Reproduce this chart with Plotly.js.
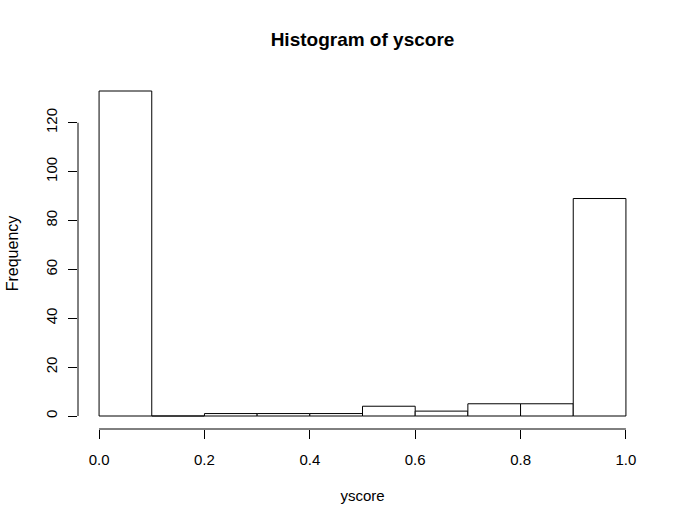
<!DOCTYPE html>
<html>
<head>
<meta charset="utf-8">
<script src="https://cdn.plot.ly/plotly-3.0.1.min.js"></script>
<style>html,body{margin:0;padding:0;background:#fff;}#plot{width:688px;height:527px;}</style>
</head>
<body>
<div id="plot"></div>
<script>
// Histogram bins (left edges) and counts
const binStarts = [0.0, 0.1, 0.2, 0.3, 0.4, 0.5, 0.6, 0.7, 0.8, 0.9];
const counts    = [133, 0, 1, 1, 1, 4, 2, 5, 5, 89];
const binWidth = 0.1;
const xTicks = [0, 0.2, 0.4, 0.6, 0.8, 1.0];
const xTickLabels = ["0.0", "0.2", "0.4", "0.6", "0.8", "1.0"];
const yTicks = [0, 20, 40, 60, 80, 100, 120];
const yTickLabels = ["0", "20", "40", "60", "80", "100", "120"];

const font = "Liberation Sans, Arial, sans-serif";
const ymax = Math.max(...counts);
const trace = {
  type: "bar",
  x: binStarts,
  y: counts,
  width: binStarts.map(() => binWidth),
  offset: 0,
  marker: {color: "#ffffff", line: {color: "#000000", width: 1}},
  hoverinfo: "x+y"
};
const layout = {
  width: 688, height: 527,
  paper_bgcolor: "#ffffff", plot_bgcolor: "#ffffff",
  margin: {l: 78, r: 41, t: 78, b: 98},
  showlegend: false,
  bargap: 0,
  title: {text: "<b>Histogram of yscore</b>", font: {family: font, size: 19, color: "#000"},
          x: 0.5, xanchor: "center", y: 0.925, yanchor: "middle", xref: "paper"},
  xaxis: {
    range: [-0.04, 1.04], showgrid: false, zeroline: false, showline: false,
    tickmode: "array", tickvals: xTicks, ticktext: xTickLabels,
    ticks: "outside", ticklen: 9, tickcolor: "#000", tickwidth: 1,
    ticklabelstandoff: 8,
    tickfont: {family: font, size: 15, color: "#000"},
    title: {text: "yscore", font: {family: font, size: 15, color: "#000"}, standoff: 23},
    automargin: false, fixedrange: true
  },
  yaxis: {
    range: [-0.04 * ymax, 1.04 * ymax], showgrid: false, zeroline: false, showline: false,
    tickmode: "array", tickvals: yTicks, ticktext: yTickLabels,
    ticks: "outside", ticklen: 9, tickcolor: "#000", tickwidth: 1,
    tickangle: -90, ticklabelstandoff: 5,
    tickfont: {family: font, size: 15, color: "#000"},
    title: {text: "Frequency", font: {family: font, size: 16, color: "#000"}, standoff: 20},
    automargin: false, fixedrange: true
  },
  shapes: [
    {type: "line", xref: "x", yref: "paper", x0: xTicks[0], x1: xTicks[xTicks.length - 1], y0: 0, y1: 0,
     line: {color: "#000", width: 1}},
    {type: "line", xref: "paper", yref: "y", x0: 0, x1: 0, y0: yTicks[0], y1: yTicks[yTicks.length - 1],
     line: {color: "#000", width: 1}}
  ]
};
Plotly.newPlot("plot", [trace], layout, {displayModeBar: false, staticPlot: true});
</script>
</body>
</html>
